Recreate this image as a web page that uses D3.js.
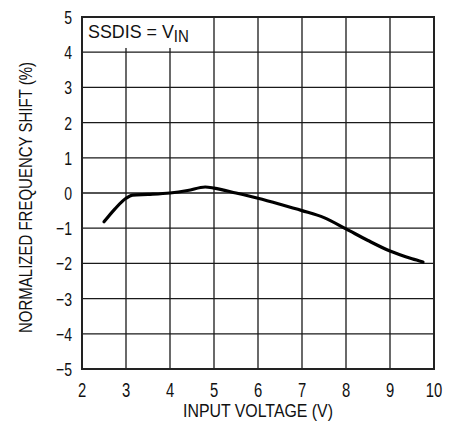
<!DOCTYPE html>
<html><head><meta charset="utf-8">
<script src="https://cdn.jsdelivr.net/npm/d3@7"></script>
<style>body{margin:0;background:#fff}svg{display:block}text{font-family:"Liberation Sans Narrow","Liberation Sans",Arial,sans-serif;fill:#111}</style>
</head><body>
<script>
const xTicks = [2,3,4,5,6,7,8,9,10];
const yTicks = [-5,-4,-3,-2,-1,0,1,2,3,4,5];
const xVals = [2.5,2.75,3.0,3.15,3.5,4.0,4.4,4.8,5.0,5.5,6.0,6.5,7.0,7.5,8.0,8.5,9.0,9.5,9.75];
const yVals = [-0.82,-0.45,-0.15,-0.06,-0.04,0.0,0.07,0.17,0.14,0.0,-0.15,-0.32,-0.5,-0.7,-1.02,-1.35,-1.65,-1.87,-1.96];

const W=463,H=422,L=82,R=434,T=17,B=369;
const SX=0.76;
const svg=d3.select("body").append("svg").attr("width",W).attr("height",H);
const x=d3.scaleLinear().domain([2,10]).range([L,R]);
const y=d3.scaleLinear().domain([-5,5]).range([B,T]);

const g=svg.append("g");
g.selectAll(".vg").data(xTicks).join("line").attr("x1",d=>x(d)).attr("x2",d=>x(d)).attr("y1",T).attr("y2",B).attr("stroke","#1a1a1a").attr("stroke-width",1.3);
g.selectAll(".hg").data(yTicks).join("line").attr("y1",d=>y(d)).attr("y2",d=>y(d)).attr("x1",L).attr("x2",R).attr("stroke","#1a1a1a").attr("stroke-width",1.3);
// annotation background
g.append("rect").attr("x",L+1).attr("y",T+1).attr("width",x(5)-L-2).attr("height",y(4.12)-T-1).attr("fill","#fff");
g.append("rect").attr("x",L).attr("y",T).attr("width",R-L).attr("height",B-T).attr("fill","none").attr("stroke","#222").attr("stroke-width",2);

const ann=svg.append("text").attr("transform",`translate(${L+6},${T+21}) scale(0.94,1)`).attr("font-size",19);
ann.append("tspan").text("SSDIS = V");
ann.append("tspan").attr("font-size",16).attr("dy",4).text("IN");

const line=d3.line().x((d,i)=>x(xVals[i])).y((d,i)=>y(yVals[i])).curve(d3.curveMonotoneX);
svg.append("path").datum(xVals).attr("d",line).attr("fill","none").attr("stroke","#000").attr("stroke-width",3.2).attr("stroke-linecap","round");

svg.selectAll(".xt").data(xTicks).join("text").attr("transform",d=>`translate(${x(d)},${B+28}) scale(${SX},1)`).attr("text-anchor","middle").attr("font-size",19.5).text(d=>d);
svg.selectAll(".yt").data(yTicks).join("text").attr("transform",d=>`translate(${L-10},${y(d)+7}) scale(${SX},1)`).attr("text-anchor","end").attr("font-size",18.5).text(d=>d<0?"\u2212"+(-d):d);

svg.append("text").attr("x",(183+333)/2).attr("y",417).attr("text-anchor","middle").attr("font-size",17.5)
  .attr("textLength",150).attr("lengthAdjust","spacingAndGlyphs").text("INPUT VOLTAGE (V)");
svg.append("text").attr("transform",`translate(32,197.5) rotate(-90)`).attr("text-anchor","middle").attr("font-size",17.5)
  .attr("textLength",271).attr("lengthAdjust","spacingAndGlyphs").text("NORMALIZED FREQUENCY SHIFT (%)");
</script>
</body></html>
